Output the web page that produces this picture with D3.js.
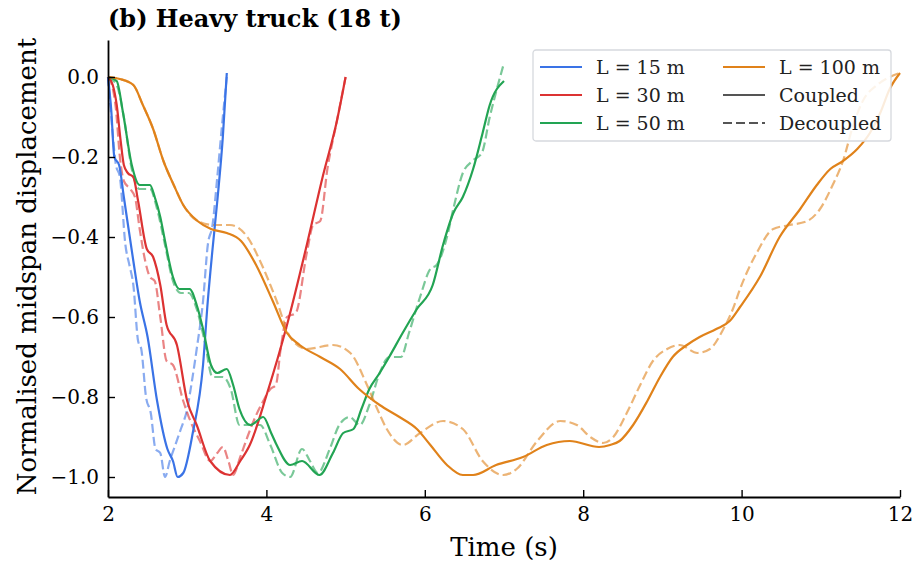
<!DOCTYPE html>
<html>
<head>
<meta charset="utf-8">
<script src="https://cdn.jsdelivr.net/npm/d3@7"></script>
<style>
    body { margin: 0; background: #fff; }
    svg { display: block; font-family: 'DejaVu Serif', serif; }
</style>
</head>
<body>
<div id="chart"></div>
<script>
// Span lengths and legend labels
const spans = ['L = 15 m', 'L = 30 m', 'L = 50 m', 'L = 100 m'];
const spanColors = ['#3a73e6', '#dc3232', '#22a453', '#e0821a'];

// Tick values
const xTicks = [2, 4, 6, 8, 10, 12];
const yTicks = [0.0, -0.2, -0.4, -0.6, -0.8, -1.0];

// L = 15 m
const t15Coupled = [2.0, 2.04, 2.08, 2.14, 2.2, 2.32, 2.4, 2.5, 2.62, 2.75, 2.82, 2.88, 2.95, 3.07, 3.2, 3.26, 3.32, 3.38, 3.45, 3.5];
const y15Coupled = [0, -0.08, -0.2, -0.22, -0.3, -0.46, -0.56, -0.65, -0.81, -0.93, -0.96, -1.0, -0.99, -0.89, -0.72, -0.56, -0.43, -0.31, -0.15, 0.01];
const t15Decoupled = [2.0, 2.05, 2.1, 2.15, 2.22, 2.27, 2.32, 2.38, 2.42, 2.48, 2.54, 2.6, 2.66, 2.72, 2.78, 2.85, 2.92, 3.0, 3.06, 3.12, 3.2, 3.26, 3.32, 3.38, 3.44, 3.5];
const y15Decoupled = [0, -0.12, -0.22, -0.25, -0.42, -0.47, -0.52, -0.66, -0.68, -0.8, -0.84, -0.93, -0.94, -1.0, -0.96, -0.92, -0.88, -0.83, -0.76, -0.68, -0.56, -0.42, -0.37, -0.25, -0.12, 0.0];

// L = 30 m
const t30Coupled = [2.0, 2.06, 2.11, 2.16, 2.2, 2.25, 2.32, 2.38, 2.49, 2.57, 2.66, 2.74, 2.87, 3.0, 3.12, 3.29, 3.54, 3.67, 3.79, 4.01, 4.26, 4.51, 4.71, 4.89, 5.0];
const y30Coupled = [0, -0.02, -0.07, -0.16, -0.22, -0.24, -0.25, -0.31, -0.43, -0.45, -0.52, -0.62, -0.67, -0.81, -0.87, -0.96, -0.995, -0.96, -0.92, -0.79, -0.62, -0.42, -0.25, -0.11, 0.0];
const t30Decoupled = [2.0, 2.05, 2.1, 2.15, 2.2, 2.28, 2.34, 2.4, 2.47, 2.53, 2.59, 2.66, 2.74, 2.82, 2.95, 3.04, 3.16, 3.29, 3.38, 3.45, 3.52, 3.58, 3.67, 3.76, 3.86, 3.96, 4.05, 4.12, 4.18, 4.26, 4.37, 4.51, 4.59, 4.68, 4.77, 4.89, 5.0];
const y30Decoupled = [0, -0.02, -0.08, -0.2, -0.26, -0.28, -0.3, -0.38, -0.46, -0.5, -0.51, -0.6, -0.71, -0.72, -0.81, -0.86, -0.91, -0.96, -0.94, -0.925, -0.96, -0.995, -0.95, -0.9, -0.85, -0.81, -0.78, -0.77, -0.68, -0.6, -0.59, -0.44, -0.37, -0.36, -0.23, -0.11, 0.0];

// L = 50 m
const t50Coupled = [2.0, 2.11, 2.19, 2.3, 2.4, 2.53, 2.59, 2.66, 2.72, 2.82, 2.9, 3.03, 3.12, 3.2, 3.3, 3.38, 3.5, 3.58, 3.66, 3.8, 3.96, 4.06, 4.13, 4.3, 4.45, 4.67, 4.84, 4.97, 5.1, 5.2, 5.3, 5.43, 5.55, 5.72, 5.9, 6.1, 6.23, 6.36, 6.48, 6.61, 6.73, 6.82, 7.0];
const y50Coupled = [0, -0.01, -0.09, -0.22, -0.27, -0.27, -0.3, -0.35, -0.41, -0.5, -0.53, -0.53, -0.57, -0.63, -0.72, -0.74, -0.73, -0.77, -0.83, -0.87, -0.85, -0.89, -0.92, -0.97, -0.96, -0.995, -0.94, -0.89, -0.88, -0.83, -0.78, -0.74, -0.7, -0.64, -0.58, -0.52, -0.42, -0.34, -0.3, -0.23, -0.14, -0.07, -0.01];
const t50Decoupled = [2.0, 2.11, 2.2, 2.3, 2.4, 2.53, 2.62, 2.72, 2.82, 2.92, 3.02, 3.12, 3.22, 3.32, 3.45, 3.55, 3.66, 3.8, 3.92, 4.05, 4.2, 4.3, 4.45, 4.55, 4.65, 4.8, 4.92, 5.05, 5.18, 5.3, 5.43, 5.55, 5.7, 5.8, 5.94, 6.07, 6.15, 6.28, 6.36, 6.48, 6.6, 6.72, 6.82, 6.91, 7.0];
const y50Decoupled = [0, -0.02, -0.1, -0.23, -0.28, -0.28, -0.33, -0.42, -0.51, -0.54, -0.54, -0.58, -0.66, -0.75, -0.75, -0.78, -0.87, -0.87, -0.87, -0.92, -0.99, -1.0, -0.93, -0.96, -0.99, -0.93, -0.87, -0.85, -0.87, -0.82, -0.74, -0.7, -0.7, -0.64, -0.55, -0.48, -0.47, -0.4, -0.33, -0.24, -0.21, -0.19, -0.1, -0.03, 0.035];

// L = 100 m
const t100Coupled = [2.0, 2.15, 2.32, 2.44, 2.57, 2.7, 2.83, 2.95, 3.13, 3.3, 3.5, 3.68, 3.87, 4.08, 4.26, 4.42, 4.68, 4.93, 5.17, 5.43, 5.68, 5.9, 6.07, 6.28, 6.48, 6.61, 6.9, 7.24, 7.54, 7.83, 8.2, 8.34, 8.46, 8.63, 8.81, 8.97, 9.13, 9.31, 9.47, 9.68, 9.85, 9.98, 10.23, 10.48, 10.74, 10.95, 11.12, 11.28, 11.46, 11.62, 11.75, 11.87, 12.0];
const y100Coupled = [0, -0.005, -0.02, -0.07, -0.13, -0.21, -0.27, -0.32, -0.36, -0.38, -0.39, -0.41, -0.47, -0.56, -0.64, -0.67, -0.7, -0.73, -0.78, -0.82, -0.85, -0.88, -0.92, -0.97, -0.995, -0.995, -0.97, -0.95, -0.92, -0.91, -0.925, -0.92, -0.91, -0.87, -0.81, -0.75, -0.7, -0.67, -0.65, -0.63, -0.61, -0.575, -0.5, -0.4, -0.33, -0.27, -0.23, -0.21, -0.18, -0.14, -0.09, -0.03, 0.01];
const t100Decoupled = [2.0, 2.15, 2.32, 2.44, 2.57, 2.7, 2.83, 2.95, 3.13, 3.33, 3.54, 3.76, 3.92, 4.13, 4.3, 4.51, 4.84, 5.06, 5.27, 5.4, 5.52, 5.72, 5.94, 6.23, 6.48, 6.73, 6.99, 7.16, 7.42, 7.71, 7.92, 8.09, 8.25, 8.38, 8.55, 8.72, 8.88, 9.06, 9.22, 9.44, 9.6, 9.77, 9.89, 9.98, 10.19, 10.4, 10.61, 10.83, 10.99, 11.15, 11.28, 11.41, 11.53, 11.71, 11.87, 12.0];
const y100Decoupled = [0, -0.005, -0.02, -0.07, -0.13, -0.21, -0.27, -0.32, -0.36, -0.37, -0.37, -0.4, -0.46, -0.56, -0.65, -0.68, -0.67, -0.69, -0.77, -0.83, -0.88, -0.92, -0.89, -0.86, -0.88, -0.96, -0.995, -0.98, -0.91, -0.86, -0.87, -0.9, -0.915, -0.9, -0.84, -0.77, -0.71, -0.68, -0.67, -0.69, -0.68, -0.63, -0.58, -0.53, -0.44, -0.38, -0.37, -0.36, -0.33, -0.27, -0.21, -0.12, -0.06, -0.02, 0.0, 0.01];

const series = [
    { span: 0, dashed: true,  t: t15Decoupled,  y: y15Decoupled },
    { span: 1, dashed: true,  t: t30Decoupled,  y: y30Decoupled },
    { span: 2, dashed: true,  t: t50Decoupled,  y: y50Decoupled },
    { span: 3, dashed: true,  t: t100Decoupled, y: y100Decoupled },
    { span: 0, dashed: false, t: t15Coupled,    y: y15Coupled },
    { span: 1, dashed: false, t: t30Coupled,    y: y30Coupled },
    { span: 2, dashed: false, t: t50Coupled,    y: y50Coupled },
    { span: 3, dashed: false, t: t100Coupled,   y: y100Coupled }
];

const width = 915;
const height = 565;
const margin = { top: 40, right: 15, bottom: 68, left: 108 };
const chartWidth = width - margin.left - margin.right;
const chartHeight = height - margin.top - margin.bottom;
const dashPattern = '9,4';

const svg = d3.select('#chart')
    .append('svg')
    .attr('width', width)
    .attr('height', height);

const g = svg.append('g')
    .attr('transform', `translate(${margin.left},${margin.top})`);

const x = d3.scaleLinear().domain([2, 12]).range([0, chartWidth]);
const y = d3.scaleLinear().domain([-1.05, 0.0925]).range([chartHeight, 0]);

const line = d3.line()
    .x(d => x(d[0]))
    .y(d => y(d[1]))
    .curve(d3.curveMonotoneX);

// Lines (decoupled behind coupled)
series.forEach(s => {
    const pts = s.t.map((t, i) => [t, s.y[i]]);
    g.append('path')
        .datum(pts)
        .attr('fill', 'none')
        .attr('stroke', spanColors[s.span])
        .attr('stroke-width', 2.2)
        .attr('stroke-opacity', s.dashed ? 0.6 : 1)
        .attr('stroke-dasharray', s.dashed ? dashPattern : null)
        .attr('stroke-linejoin', 'round')
        .attr('d', line);
});

// Axes - ticks pointing inward
const fmtY = d => d3.format('.1f')(d).replace('-', '\u2212');

const xAxis = g.append('g')
    .attr('transform', `translate(0,${chartHeight})`)
    .call(d3.axisBottom(x).tickValues(xTicks).tickFormat(d3.format('d')).tickSizeInner(-7).tickSizeOuter(0).tickPadding(10));

const yAxis = g.append('g')
    .call(d3.axisLeft(y).tickValues(yTicks).tickFormat(fmtY).tickSizeInner(-7).tickSizeOuter(0).tickPadding(9));

[xAxis, yAxis].forEach(ax => {
    ax.select('.domain').attr('stroke', '#000').attr('stroke-width', 1.8);
    ax.selectAll('.tick line').attr('stroke', '#000').attr('stroke-width', 1.4);
    ax.selectAll('.tick text')
        .style('font-family', "'DejaVu Serif', serif")
        .style('font-size', '20px')
        .attr('fill', '#000');
});

// Axis labels
svg.append('text')
    .attr('x', margin.left + chartWidth / 2)
    .attr('y', 556)
    .attr('text-anchor', 'middle')
    .style('font-size', '26px')
    .text('Time (s)');

svg.append('text')
    .attr('transform', 'rotate(-90)')
    .attr('x', -(margin.top + chartHeight / 2) + 2)
    .attr('y', 36)
    .attr('text-anchor', 'middle')
    .style('font-size', '26px')
    .text('Normalised midspan displacement');

// Title
svg.append('text')
    .attr('x', margin.left)
    .attr('y', 27)
    .style('font-size', '24px')
    .style('font-weight', 'bold')
    .text('(b) Heavy truck (18 t)');

// Legend
const legendItems = [
    { label: spans[0], color: spanColors[0], dashed: false },
    { label: spans[1], color: spanColors[1], dashed: false },
    { label: spans[2], color: spanColors[2], dashed: false },
    { label: spans[3], color: spanColors[3], dashed: false },
    { label: 'Coupled', color: '#555', dashed: false },
    { label: 'Decoupled', color: '#555', dashed: true }
];

const legend = svg.append('g').attr('transform', 'translate(533,50)');

legend.append('rect')
    .attr('x', 0)
    .attr('y', 0)
    .attr('width', 358)
    .attr('height', 91)
    .attr('rx', 3)
    .attr('fill', 'rgba(255,255,255,0.85)')
    .attr('stroke', '#d6d9de')
    .attr('stroke-width', 1.3);

legendItems.forEach((item, i) => {
    const col = Math.floor(i / 3);
    const row = i % 3;
    const lx = 7 + col * 183;
    const ly = 17 + row * 28;
    const row_g = legend.append('g').attr('transform', `translate(${lx},${ly})`);

    row_g.append('line')
        .attr('x1', 0)
        .attr('x2', 42)
        .attr('y1', 0)
        .attr('y2', 0)
        .attr('stroke', item.color)
        .attr('stroke-width', 2.2)
        .attr('stroke-dasharray', item.dashed ? dashPattern : null);

    row_g.append('text')
        .attr('x', 56)
        .attr('y', 7)
        .style('font-size', '19px')
        .attr('fill', '#222')
        .text(item.label);
});
</script>
</body>
</html>
